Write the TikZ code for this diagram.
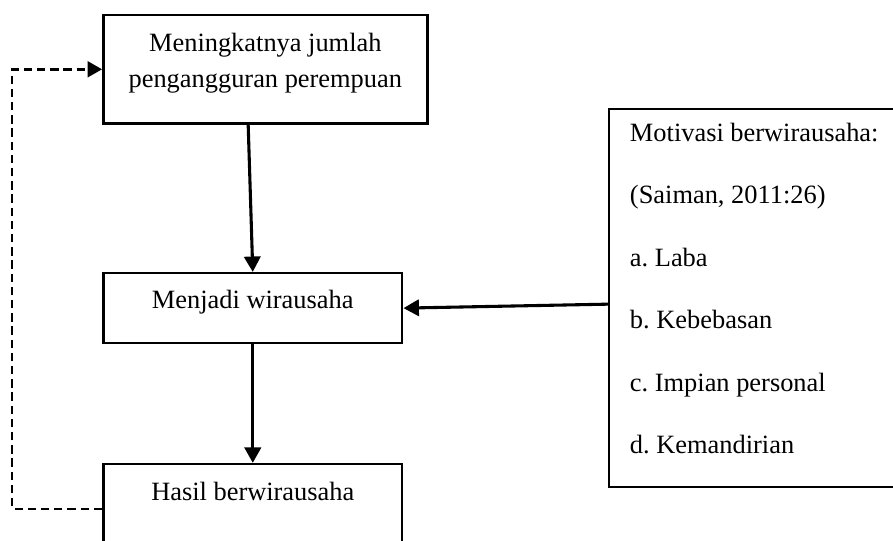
\documentclass[tikz,border=0pt]{standalone}
\usepackage{fontspec}
\setmainfont{Liberation Serif}
\usetikzlibrary{arrows.meta}

\begin{document}
\begin{tikzpicture}[
  box/.style={draw, line width=1.1pt, inner sep=0pt, anchor=north west, font=\fontsize{12pt}{14.5pt}\selectfont\frenchspacing},
  arr/.style={line width=1.4pt, -{Triangle[length=7pt,width=7.4pt]}},
  loopline/.style={line width=1.1pt, dash pattern=on 3.8pt off 2.2pt, -{Triangle[length=6.6pt,width=7.2pt]}}
]
  \useasboundingbox (0,0) rectangle (405.9pt,-245.9pt);
  \clip (0,0) rectangle (405.9pt,-245.9pt);
  %
  % TOP BOX
  \node[box] (jumlah) at (46.4pt,-6.4pt) {\begin{minipage}[t][49.1pt][t]{147.3pt}\centering
  \rule{0pt}{16.3pt}Meningkatnya jumlah\\
  \setlength{\baselineskip}{16.4pt}pengangguran perempuan
  \vfill
  \end{minipage}};
  % MIDDLE BOX
  \node[box] (wira) at (46.4pt,-123.6pt) {\begin{minipage}[t][31.8pt][t]{135.9pt}\centering
  \rule{0pt}{15.9pt}Menjadi wirausaha
  \vfill
  \end{minipage}};
  % BOTTOM BOX
  \node[box] (hasil) at (46.4pt,-210.4pt) {\begin{minipage}[t][45.5pt][t]{135.9pt}\centering
  \rule{0pt}{16.4pt}Hasil berwirausaha
  \vfill
  \end{minipage}};
  % MOTIVASI
  \node[box] (motiv) at (276.3pt,-49.1pt) {\begin{minipage}[t][171.8pt][t]{135pt}\raggedright \setlength{\leftskip}{9.5pt}
  \rule{0pt}{14.5pt}Motivasi berwirausaha:\\
  \setlength{\baselineskip}{28.4pt}(Saiman, 2011:26)\\
  a. Laba\\
  b. Kebebasan\\
  c. Impian personal\\
  d. Kemandirian
  \vfill
  \end{minipage}};
  %
  \draw[arr] ([xshift=66.4pt]jumlah.south west) -- (wira.north);
  \draw[arr] (wira.south) -- (hasil.north);
  \draw[arr] ([yshift=-2.7pt]motiv.west) -- (wira.east);
  %
  \path (jumlah.west) ++(-40.9pt,0) coordinate (balik);
  \draw[loopline] ([yshift=-20.9pt]hasil.north west) -| (balik) -- (jumlah.west);
  %
\end{tikzpicture}
\end{document}
